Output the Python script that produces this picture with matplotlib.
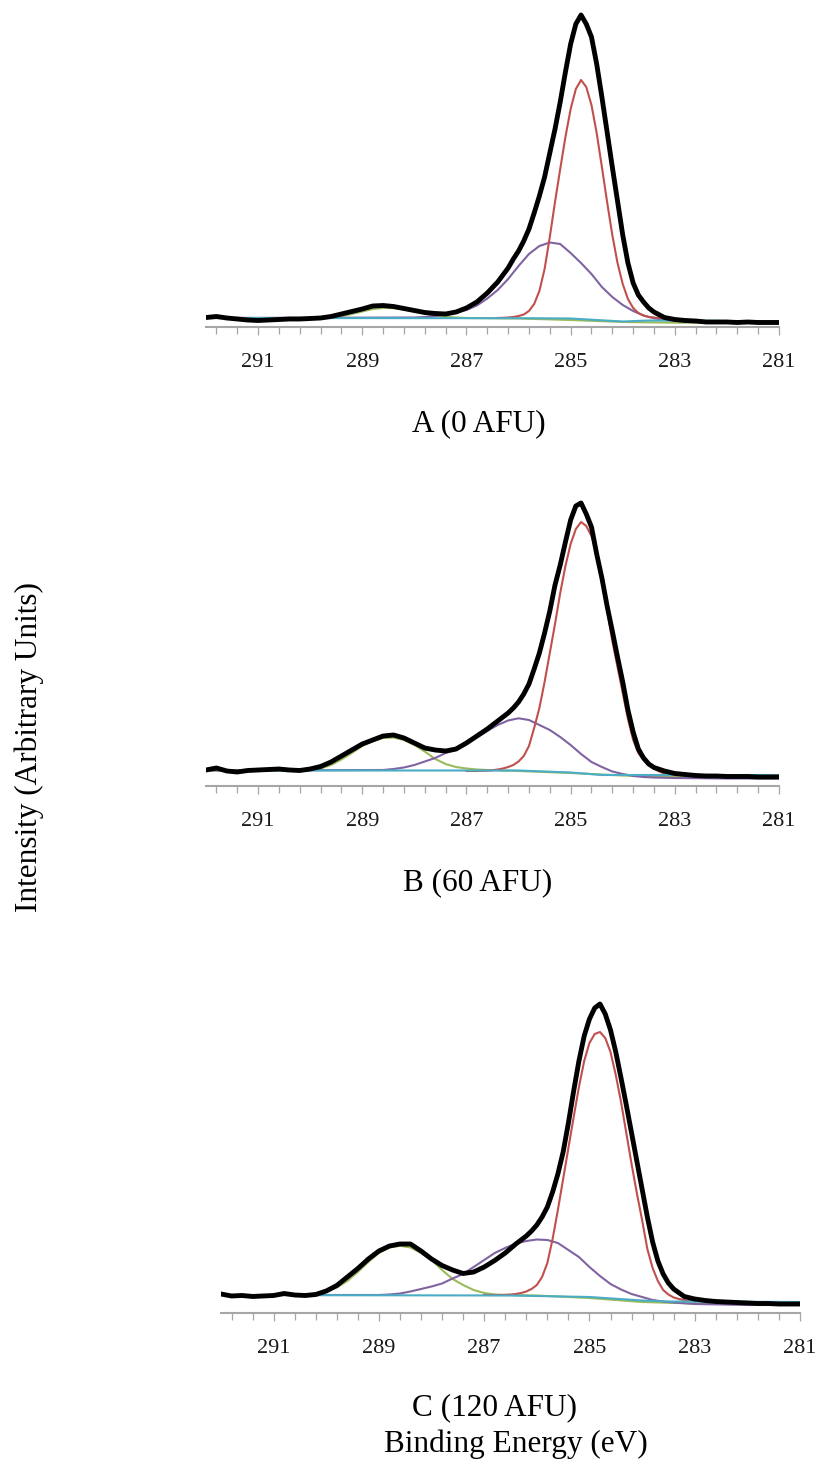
import numpy as np
import matplotlib
matplotlib.use('Agg')
import matplotlib.pyplot as plt


def grid(hi, lo, step):
    n = int(round((hi - lo) / step)) + 1
    return list(np.round(hi - step * np.arange(n), 2))


# total envelope is sampled finer (0.1 eV) across the main C 1s peak
ENVELOPE_BE = grid(292.0, 286.2, 0.2) + grid(286.1, 283.4, 0.1) + grid(283.2, 281.0, 0.2)

# ---- panel A (0 AFU) ----
A_TOTAL = [9.5, 10.5, 9, 8, 7, 6.5, 7, 7.5, 8, 8,
           8.5, 9, 10.5, 13, 15.5, 18, 21, 21.5, 20.5, 18.5,
           16.5, 14.5, 13.5, 13, 15, 19, 25, 34, 45, 59,
           68, 76, 86, 98, 114, 131, 150, 174, 198, 225,
           255, 283, 303, 312, 303, 290, 263, 230, 195, 160,
           126, 92, 64, 44, 32, 25, 19, 15,
           9.5, 7.5, 6.5, 6, 5, 5, 5, 4.5, 5, 4.5, 4.5, 4.5]
A_P1_BE = grid(286.4, 283.2, 0.1)
A_P1 = [9, 9.2, 9.5, 10, 11, 12.5, 16, 23, 36, 58,
        90, 125, 158, 190, 218, 238, 247, 240, 222, 194,
        160, 125, 92, 64, 43, 28, 19, 14, 11.5, 10,
        9.5, 9, 8.5]
A_P2_BE = [292.0] + grid(288.0, 283.0, 0.2) + [282.5, 281.0]
A_P2 = [9, 9.5, 10, 11, 12.5, 14.5, 17, 21.5, 28.5, 37, 48,
        61, 73, 81, 84.5, 83, 74, 64, 53, 40, 30,
        22, 16, 11.5, 8.7, 7, 6, 5, 5]
A_P3_BE = [292.0] + grid(290.2, 287.0, 0.2) + [286.0, 285.0, 284.0, 283.0, 281.0]
A_P3 = [9, 9, 9, 9, 10, 11, 13, 15.5, 18, 19, 18.8,
        17.5, 15.5, 13.5, 11.5, 10.3, 9.5, 9, 8.5, 7, 5, 4.3, 4.3]
A_BG_BE = [292.0, 286.0, 285.5, 285.0, 284.5, 284.0, 283.5, 283.0, 282.0, 281.0]
A_BG = [9, 8.8, 8.7, 8.5, 7, 5.5, 6.5, 6.5, 6, 5.8]

# ---- panel B (60 AFU) ----
B_TOTAL = [16, 18, 15, 14, 15.5, 16, 16.5, 17, 16, 15.5,
           17, 19.5, 24, 30, 36, 42, 46, 50, 51, 48,
           43, 38, 36, 35, 37, 43, 50, 57, 65, 73,
           78, 84, 92, 102, 117, 133, 153, 175, 201, 221,
           244, 266, 280, 283, 272, 259, 232, 208, 180, 155,
           129, 104, 76, 54, 37, 28, 22, 18.5,
           15, 12.5, 11.5, 10.5, 10, 10, 9.5, 9.5, 9.5, 9, 9, 9]
B_P1_BE = grid(287.0, 283.0, 0.1)
B_P1 = [15, 15, 15, 15.2, 15.3, 15.8, 16.5, 17.5, 19, 21,
        24.5, 30, 40, 58, 78, 104, 133, 162, 193, 220,
        242, 257, 264, 260, 250, 233, 207, 176, 145, 119,
        93, 67, 46, 33, 26, 21, 17.5, 14.5, 12.5, 11.5,
        11]
B_P2_BE = [292.0] + grid(288.6, 283.4, 0.2) + [283.0, 282.0, 281.0]
B_P2 = [15.5, 16, 17, 18.5, 21, 24.5, 28, 33, 36, 42, 48.5,
        55, 61, 65.5, 67.7, 66, 61, 56, 49, 41, 32,
        24, 19, 14.5, 12, 10, 9, 8.5, 8, 7.5, 7.5]
B_P3_BE = [292.0] + grid(290.4, 286.6, 0.2) + [286.0, 285.0, 284.0, 283.0, 281.0]
B_P3 = [15.5, 15.5, 16, 17, 17.5, 21, 26.5, 33, 40, 45, 48,
        48.5, 46, 41, 34.5, 27, 22, 19, 17.5, 16.5, 16,
        15, 13, 10.5, 9.5, 9.5]
B_BG_BE = [292.0, 291.9, 291.7, 286.0, 285.0, 284.4, 283.0, 281.0]
B_BG = [15.5, 18, 15.5, 15.5, 13.5, 11, 11, 11]

# ---- panel C (120 AFU) ----
C_BE = [292.2] + ENVELOPE_BE
C_TOTAL = [19.5, 19, 17, 17.5, 16.5, 17, 17.5, 19.5, 18, 17.5,
           18.5, 22, 27.5, 36, 44.5, 54, 62, 67, 69, 69,
           62, 54, 47.5, 43, 39.5, 41, 46, 52.5, 60, 69,
           77, 82, 88, 96, 106, 121, 139, 161, 190, 222,
           252, 277, 294, 305, 309, 299, 283, 261, 235, 208,
           180, 152, 124, 96, 71, 52, 39, 30, 24,
           16.5, 14, 12.5, 11.5, 11, 10.5, 10, 9.5, 9.5, 9, 9, 9]
C_P1_BE = grid(287.0, 283.0, 0.1)
C_P1 = [18, 18, 18, 18, 18.2, 18.5, 19, 20, 21.5, 24,
        28, 36, 50, 74, 103, 134, 165, 196, 226, 252,
        270, 279, 281, 275, 261, 238, 211, 180, 149, 120,
        93, 64, 45, 32, 23, 18.5, 15.5, 14, 13, 12,
        11.5]
C_P2_BE = [292.2] + grid(289.0, 283.4, 0.2) + [283.0, 282.0, 281.0]
C_P2 = [18, 18, 18.5, 19.5, 21.5, 24, 26.5, 29.5, 34.5, 39, 46,
        53, 60, 65, 69.5, 72, 73.5, 73, 70, 63, 56,
        46, 37, 29, 23.5, 19, 16, 13, 11.5, 10.5, 9, 8, 8]
C_P3_BE = [292.2] + grid(290.6, 286.6, 0.2) + [286.0, 285.0, 284.0, 283.0, 281.0]
C_P3 = [18, 18, 18.5, 19.5, 21.5, 25.5, 32, 41, 51, 60, 65.5,
        67.2, 65.5, 60, 53, 43, 34, 28, 23, 20, 18.5,
        18, 17.5, 15, 11, 9.5, 9.5]
C_BG_BE = [292.2, 286.5, 285.0, 284.0, 283.5, 281.0]
C_BG = [18, 17.5, 16, 12.5, 11.5, 11]

TICK_LABELS = [291, 289, 287, 285, 283, 281]

RED = '#c0504d'
PURPLE = '#8064a2'
GREEN = '#9bbb59'
CYAN = '#4bacc6'
GREY = '#a6a6a6'

W, H = 820, 1466


def add_panel(fig, left, right, top, bottom, xmax):
    ax = fig.add_axes([left / W, 1 - bottom / H, (right - left) / W, (bottom - top) / H])
    ax.set_xlim(xmax, 281.0)
    ax.set_ylim(0, bottom - top)
    for s in ['top', 'left', 'right']:
        ax.spines[s].set_visible(False)
    ax.spines['bottom'].set_color(GREY)
    ax.spines['bottom'].set_linewidth(1.5)
    ax.set_yticks([])
    ax.set_xticks(TICK_LABELS)
    ax.set_xticklabels([str(t) for t in TICK_LABELS], fontsize=16, color='#1a1a1a')
    ax.set_xticks(np.round(281 + 0.4 * np.arange(28), 2), minor=True)
    ax.tick_params(axis='x', which='major', direction='out', length=6, width=0.9,
                   color=GREY, pad=13)
    ax.tick_params(axis='x', which='minor', direction='out', length=5, width=0.9,
                   color=GREY)
    ax.patch.set_alpha(0)
    return ax


def draw(ax, be, total, p1_be, p1, p2_be, p2, p3_be, p3, bg_be, bg):
    ax.plot(p3_be, p3, color=GREEN, lw=1.5, zorder=2)
    ax.plot(p2_be, p2, color=PURPLE, lw=1.5, zorder=2)
    ax.plot(p1_be, p1, color=RED, lw=1.5, zorder=2)
    ax.plot(bg_be, bg, color=CYAN, lw=1.5, zorder=2.5)
    ax.plot(be, total, color='black', lw=3.5, zorder=3,
            solid_joinstyle='round', solid_capstyle='round')


def main():
    plt.rcParams['font.family'] = ['Liberation Serif', 'DejaVu Serif']

    fig = plt.figure(figsize=(W / 100, H / 100), dpi=100)

    ax_a = add_panel(fig, 206, 779, 2, 327, 292.0)
    draw(ax_a, ENVELOPE_BE, A_TOTAL, A_P1_BE, A_P1, A_P2_BE, A_P2, A_P3_BE, A_P3, A_BG_BE, A_BG)

    ax_b = add_panel(fig, 206, 779, 486, 786, 292.0)
    draw(ax_b, ENVELOPE_BE, B_TOTAL, B_P1_BE, B_P1, B_P2_BE, B_P2, B_P3_BE, B_P3, B_BG_BE, B_BG)

    ax_c = add_panel(fig, 221, 800, 990, 1313, 292.0)
    draw(ax_c, C_BE, C_TOTAL, C_P1_BE, C_P1, C_P2_BE, C_P2, C_P3_BE, C_P3, C_BG_BE, C_BG)

    fs = 22.5
    fig.text(479 / W, 1 - 431 / H, 'A (0 AFU)', ha='center', va='baseline', fontsize=fs)
    fig.text(478 / W, 1 - 890 / H, 'B (60 AFU)', ha='center', va='baseline', fontsize=fs)
    fig.text(495 / W, 1 - 1415 / H, 'C (120 AFU)', ha='center', va='baseline', fontsize=fs)
    fig.text(516 / W, 1 - 1452 / H, 'Binding Energy (eV)', ha='center', va='baseline', fontsize=fs)
    fig.text(29 / W, 1 - 747 / H, 'Intensity (Arbitrary Units)', ha='center', va='center',
             rotation=90, fontsize=fs)

    fig.savefig('out.png', dpi=100, facecolor='white')


if __name__ == "__main__":
    main()
